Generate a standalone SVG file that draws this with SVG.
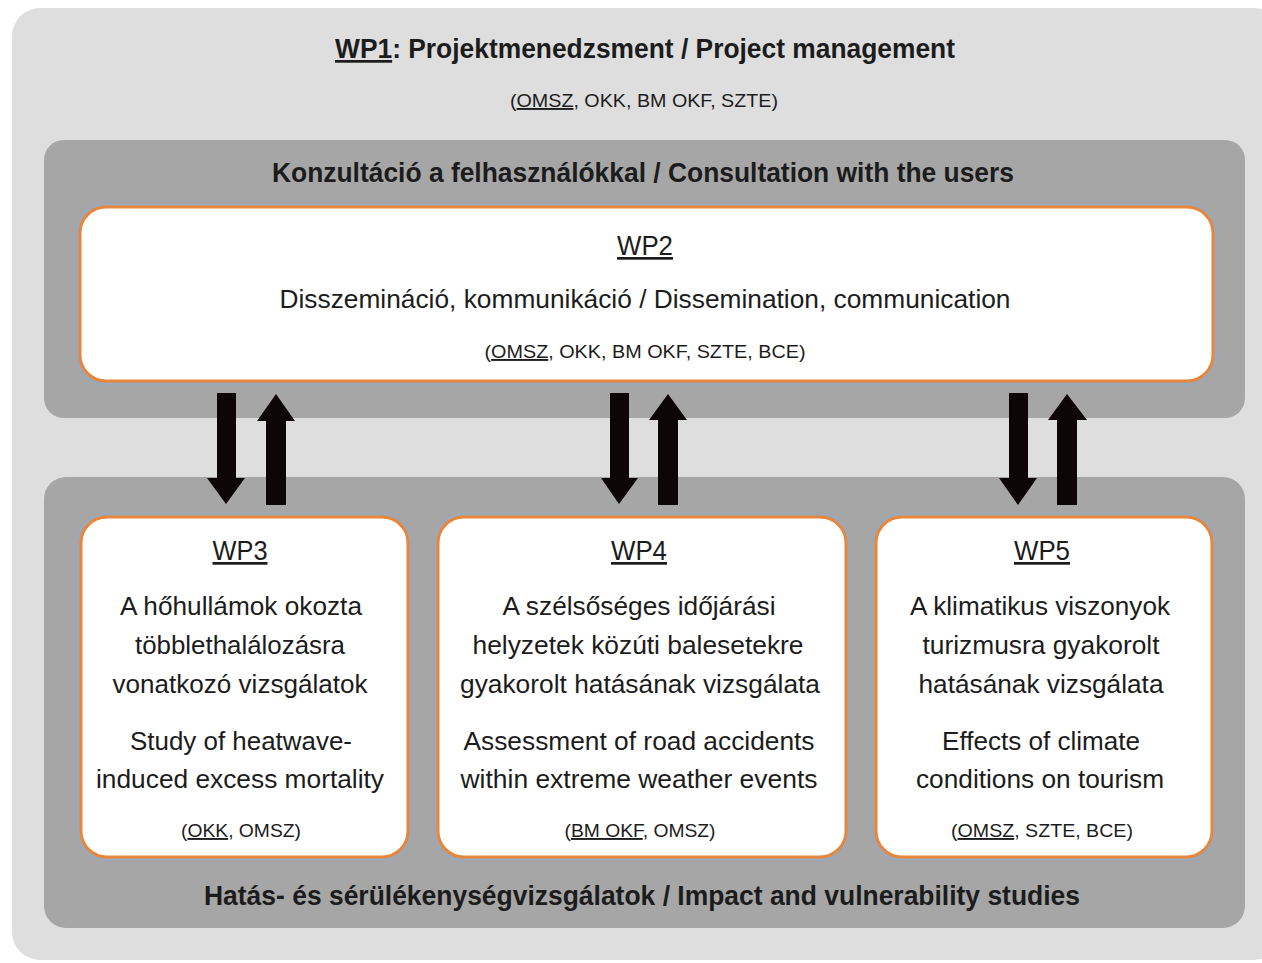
<svg xmlns="http://www.w3.org/2000/svg" width="1262" height="963" viewBox="0 0 1262 963">
<style>
  text { font-family: "Liberation Sans", Arial, sans-serif; fill: #1c1c1c; text-anchor: middle; }
  .hdr { font-weight: bold; font-size: 27px; }
  .wp { font-size: 27px; }
  .body { font-size: 26px; }
  .sub { font-size: 19px; }
  .u { text-decoration: underline; }
  .band { fill: #a6a6a6; }
  .glow { fill: none; stroke: #9ea8b4; stroke-width: 9; }
  .box { fill: #ffffff; stroke: #e8863c; stroke-width: 3; }
  .arrow { fill: #0d0606; }
</style>
<rect x="0" y="0" width="1262" height="963" fill="#ffffff"/>
<rect x="12" y="8" width="1270" height="952" rx="28" fill="#dedede"/>

<g id="wp1">
  <text class="hdr" x="645" y="58" textLength="620" lengthAdjust="spacingAndGlyphs"><tspan class="u">WP1</tspan>: Projektmenedzsment / Project management</text>
  <text class="sub" x="644" y="107" textLength="268" lengthAdjust="spacingAndGlyphs">(<tspan class="u">OMSZ</tspan>, OKK, BM OKF, SZTE)</text>
</g>

<g id="consultation">
  <rect class="band" x="44" y="140" width="1201" height="278" rx="20"/>
  <text class="hdr" x="643" y="182" textLength="742" lengthAdjust="spacingAndGlyphs">Konzultáció a felhasználókkal / Consultation with the users</text>
</g>

<g id="impact">
  <rect class="band" x="44" y="477" width="1201" height="451" rx="22"/>
  <text class="hdr" x="642" y="905" textLength="876" lengthAdjust="spacingAndGlyphs">Hatás- és sérülékenységvizsgálatok / Impact and vulnerability studies</text>
</g>

<g id="wp2">
  <rect class="glow" x="80" y="207" width="1133" height="174" rx="26"/>
  <rect class="box" x="80" y="207" width="1133" height="174" rx="26"/>
  <text class="wp" x="645" y="255" textLength="56" lengthAdjust="spacingAndGlyphs"><tspan class="u">WP2</tspan></text>
  <text class="body" x="645" y="308" textLength="731" lengthAdjust="spacingAndGlyphs">Disszemináció, kommunikáció / Dissemination, communication</text>
  <text class="sub" x="645" y="358" textLength="321" lengthAdjust="spacingAndGlyphs">(<tspan class="u">OMSZ</tspan>, OKK, BM OKF, SZTE, BCE)</text>
</g>

<g id="wp3">
  <rect class="glow" x="81" y="517" width="327" height="340" rx="26"/>
  <rect class="box" x="81" y="517" width="327" height="340" rx="26"/>
  <text class="wp" x="240" y="560" textLength="55" lengthAdjust="spacingAndGlyphs"><tspan class="u">WP3</tspan></text>
  <text class="body" x="241" y="615" textLength="242" lengthAdjust="spacingAndGlyphs">A hőhullámok okozta</text>
  <text class="body" x="240" y="654" textLength="210" lengthAdjust="spacingAndGlyphs">többlethalálozásra</text>
  <text class="body" x="240" y="693" textLength="255" lengthAdjust="spacingAndGlyphs">vonatkozó vizsgálatok</text>
  <text class="body" x="241" y="750" textLength="222" lengthAdjust="spacingAndGlyphs">Study of heatwave-</text>
  <text class="body" x="240" y="788" textLength="288" lengthAdjust="spacingAndGlyphs">induced excess mortality</text>
  <text class="sub" x="241" y="837" textLength="120" lengthAdjust="spacingAndGlyphs">(<tspan class="u">OKK</tspan>, OMSZ)</text>
</g>

<g id="wp4">
  <rect class="glow" x="438" y="517" width="408" height="340" rx="26"/>
  <rect class="box" x="438" y="517" width="408" height="340" rx="26"/>
  <text class="wp" x="639" y="560" textLength="56" lengthAdjust="spacingAndGlyphs"><tspan class="u">WP4</tspan></text>
  <text class="body" x="639" y="615" textLength="273" lengthAdjust="spacingAndGlyphs">A szélsőséges időjárási</text>
  <text class="body" x="638" y="654" textLength="331" lengthAdjust="spacingAndGlyphs">helyzetek közúti balesetekre</text>
  <text class="body" x="640" y="693" textLength="360" lengthAdjust="spacingAndGlyphs">gyakorolt hatásának vizsgálata</text>
  <text class="body" x="639" y="750" textLength="351" lengthAdjust="spacingAndGlyphs">Assessment of road accidents</text>
  <text class="body" x="639" y="788" textLength="357" lengthAdjust="spacingAndGlyphs">within extreme weather events</text>
  <text class="sub" x="640" y="837" textLength="151" lengthAdjust="spacingAndGlyphs">(<tspan class="u">BM OKF</tspan>, OMSZ)</text>
</g>

<g id="wp5">
  <rect class="glow" x="876" y="517" width="336" height="340" rx="26"/>
  <rect class="box" x="876" y="517" width="336" height="340" rx="26"/>
  <text class="wp" x="1042" y="560" textLength="56" lengthAdjust="spacingAndGlyphs"><tspan class="u">WP5</tspan></text>
  <text class="body" x="1040" y="615" textLength="260" lengthAdjust="spacingAndGlyphs">A klimatikus viszonyok</text>
  <text class="body" x="1041" y="654" textLength="237" lengthAdjust="spacingAndGlyphs">turizmusra gyakorolt</text>
  <text class="body" x="1041" y="693" textLength="245" lengthAdjust="spacingAndGlyphs">hatásának vizsgálata</text>
  <text class="body" x="1041" y="750" textLength="198" lengthAdjust="spacingAndGlyphs">Effects of climate</text>
  <text class="body" x="1040" y="788" textLength="248" lengthAdjust="spacingAndGlyphs">conditions on tourism</text>
  <text class="sub" x="1042" y="837" textLength="182" lengthAdjust="spacingAndGlyphs">(<tspan class="u">OMSZ</tspan>, SZTE, BCE)</text>
</g>

<g id="connectors">
  <!-- pair 1 -->
  <polygon class="arrow" points="217,393 236,393 236,478 245,478 226,504 207,478 217,478"/>
  <polygon class="arrow" points="266,505 286,505 286,421 295,421 276,394 257,421 266,421"/>
  <!-- pair 2 -->
  <polygon class="arrow" points="610,393 629,393 629,478 638,478 619,504 601,478 610,478"/>
  <polygon class="arrow" points="658,505 678,505 678,420 687,420 668,394 649,420 658,420"/>
  <!-- pair 3 -->
  <polygon class="arrow" points="1009,393 1028,393 1028,478 1037,478 1018,505 999,478 1009,478"/>
  <polygon class="arrow" points="1057,505 1077,505 1077,420 1087,420 1067,394 1048,420 1057,420"/>
</g>
</svg>
